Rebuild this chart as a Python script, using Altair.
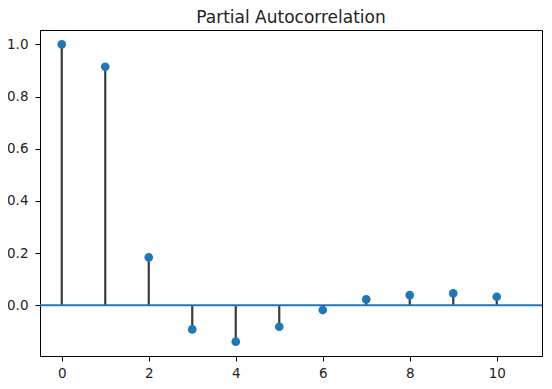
import altair as alt
import pandas as pd

lags = [0, 1, 2, 3, 4, 5, 6, 7, 8, 9, 10]
pacf = [1.0, 0.914, 0.184, -0.092, -0.139, -0.082, -0.018, 0.023, 0.039, 0.046, 0.033]
x_ticks = [0, 2, 4, 6, 8, 10]
y_ticks = [0.0, 0.2, 0.4, 0.6, 0.8, 1.0]

df = pd.DataFrame({"lag": lags, "pacf": pacf, "zero": [0.0] * len(lags)})

xs = alt.Scale(domain=[-0.5, 11.04], nice=False, zero=False)
ys = alt.Scale(domain=[-0.194, 1.055], nice=False, zero=False)

x_axis = alt.Axis(values=x_ticks, format="d", title=None, grid=False, labelPadding=5)
y_axis = alt.Axis(values=y_ticks, format=".1f", title=None, grid=False, labelPadding=7)

base = alt.Chart(df)

stems = base.mark_rule(color="#3b3b3b", strokeWidth=2.2).encode(
    x=alt.X("lag:Q", scale=xs, axis=x_axis),
    y=alt.Y("zero:Q", scale=ys, axis=y_axis),
    y2="pacf:Q",
)

zero_line = base.mark_rule(color="#1f77b4", strokeWidth=2).encode(
    y=alt.Y("datum_zero:Q", scale=ys),
).transform_calculate(datum_zero="0").transform_filter("datum.lag == 0")

points = base.mark_circle(color="#1f77b4", size=75, opacity=1).encode(
    x=alt.X("lag:Q", scale=xs),
    y=alt.Y("pacf:Q", scale=ys),
)

chart = (
    alt.layer(stems, zero_line, points)
    .properties(
        width=502,
        height=326,
        title=alt.TitleParams("Partial Autocorrelation", fontSize=17, font="DejaVu Sans",
                              fontWeight="normal", color="#222222", offset=3),
        autosize=alt.AutoSizeParams(type="none"),
        padding={"left": 32, "top": 22, "right": 2, "bottom": 24},
    )
    .configure_view(stroke="black", strokeWidth=1)
    .configure_axis(
        labelFont="DejaVu Sans",
        labelFontSize=13.5,
        labelColor="#222222",
        tickColor="black",
        tickSize=5,
        domainColor="black",
    )
)

chart.save("out.html", embed_options={"renderer": "svg", "actions": False})
